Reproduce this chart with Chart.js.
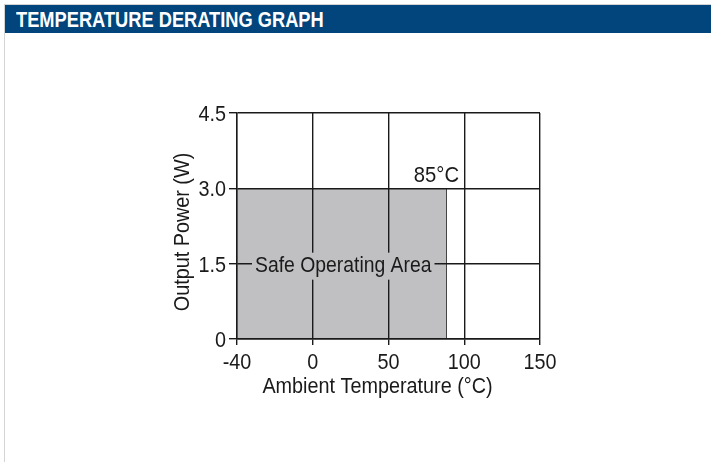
<!DOCTYPE html>
<html>
<head>
<meta charset="utf-8">
<script src="https://cdn.jsdelivr.net/npm/chart.js@4/dist/chart.umd.min.js"></script>
<style>
  html, body { margin: 0; padding: 0; background: #fff; }
  body { width: 711px; height: 462px; position: relative; overflow: hidden; }
  #panel { position: absolute; left: 4px; top: 4px; right: 0; bottom: 0;
           border-left: 1.5px solid #d4d4d4; border-top: 1px solid #d4d4d4; }
  #header { position: absolute; left: 5px; top: 5px; width: 706px; height: 28px;
            background: #01457c; color: #fff; box-sizing: border-box; padding-left: 11px;
            font: bold 22px 'Liberation Sans', Arial, sans-serif;
            line-height: 29px; white-space: nowrap; }
  #header span { display: inline-block; transform: scaleX(0.83); transform-origin: 0 50%; }
  #chart { position: absolute; left: 0; top: 0; }
</style>
</head>
<body>
<div id="panel"></div>
<div id="header"><span>TEMPERATURE DERATING GRAPH</span></div>
<canvas id="chart" width="711" height="462"></canvas>
<script>
// axis ticks (x axis is evenly spaced, not linear)
const tempTicks = [-40, 0, 50, 100, 150];
const powerTicks = [0, 1.5, 3.0, 4.5];

// safe operating area
const safeTemps = [-40, 88];
const safePower = [3.0, 3.0];
const safeLabel = 'Safe Operating Area';
const limitLabel = '85°C';
const xTitle = 'Ambient Temperature (°C)';
const yTitle = 'Output Power (W)';

const FONT = "'Liberation Sans', Arial, sans-serif";
const INK = '#1a1a1a';
const FILL = '#c0c0c2';

// map a temperature onto the evenly spaced tick index scale
function tempToIdx(t) {
  for (let i = 0; i < tempTicks.length - 1; i++) {
    const a = tempTicks[i], b = tempTicks[i + 1];
    if (t <= b) return i + (t - a) / (b - a);
  }
  return tempTicks.length - 1;
}

const areaPoints = safeTemps.map((t, i) => ({ x: tempToIdx(t), y: safePower[i] }));
const lastT = safeTemps[safeTemps.length - 1];
const edgePoints = [{ x: tempToIdx(lastT), y: 0 }, { x: tempToIdx(lastT), y: safePower[safePower.length - 1] }];

// condensed text (the original uses a narrow Helvetica)
function txt(ctx, s, x, y, align, sx, rot) {
  ctx.save();
  ctx.translate(x, y);
  if (rot) ctx.rotate(rot);
  ctx.scale(sx, 1);
  ctx.textAlign = align;
  ctx.textBaseline = 'alphabetic';
  ctx.fillText(s, 0, 0);
  ctx.restore();
}

const textPlugin = {
  id: 'texts',
  afterDraw(chart) {
    const { ctx, chartArea: ca, scales: { x, y } } = chart;
    ctx.save();
    ctx.font = '22px ' + FONT;
    ctx.fillStyle = INK;
    // tick labels
    x.ticks.forEach((t) => txt(ctx, String(tempTicks[t.value]), x.getPixelForValue(t.value), ca.bottom + 30, 'center', 0.9));
    y.ticks.forEach((t) => txt(ctx, t.value === 0 ? '0' : t.value.toFixed(1), ca.left - 11, y.getPixelForValue(t.value) + 8, 'right', 0.9));
    // axis titles
    txt(ctx, xTitle, (ca.left + ca.right) / 2 - 11, ca.bottom + 54, 'center', 0.9);
    txt(ctx, yTitle, ca.left - 48, (ca.top + ca.bottom) / 2 + 6, 'center', 0.9, -Math.PI / 2);
    // safe area label on a grey box that breaks the grid
    const lx = x.getPixelForValue(tempToIdx(safeTemps[0])) + 18;
    const ly = y.getPixelForValue(1.5);
    const w = ctx.measureText(safeLabel).width * 0.88;
    ctx.fillStyle = FILL;
    ctx.fillRect(lx - 3, ly - 11, w + 6, 27);
    ctx.fillStyle = INK;
    txt(ctx, safeLabel, lx, ly + 8, 'left', 0.88);
    // derating limit label
    txt(ctx, limitLabel, x.getPixelForValue(tempToIdx(lastT)) + 13, y.getPixelForValue(safePower[1]) - 6, 'right', 0.92);
    ctx.restore();
  }
};

new Chart(document.getElementById('chart'), {
  type: 'line',
  data: {
    datasets: [
      {
        data: areaPoints,
        backgroundColor: FILL,
        borderWidth: 0,
        pointRadius: 0,
        fill: 'origin'
      },
      {
        data: edgePoints,
        borderColor: INK,
        borderWidth: 1.5,
        pointRadius: 0,
        fill: false
      }
    ]
  },
  options: {
    responsive: false,
    animation: false,
    devicePixelRatio: 1,
    layout: { padding: { left: 160, right: 171, top: 113, bottom: 63 } },
    plugins: { legend: { display: false }, tooltip: { enabled: false } },
    scales: {
      x: {
        type: 'linear',
        min: 0,
        max: tempTicks.length - 1,
        afterFit: (s) => { s.height = 60; },
        afterBuildTicks: (s) => { s.ticks = tempTicks.map((t, i) => ({ value: i })); },
        grid: { color: INK, lineWidth: 1.4, tickLength: 6, z: 1 },
        border: { color: INK, width: 1.4, z: 1 },
        ticks: { display: false }
      },
      y: {
        min: 0,
        max: powerTicks[powerTicks.length - 1],
        afterFit: (s) => { s.width = 77; },
        afterBuildTicks: (s) => { s.ticks = powerTicks.map((v) => ({ value: v })); },
        grid: { color: INK, lineWidth: 1.4, tickLength: 8, z: 1 },
        border: { color: INK, width: 1.4, z: 1 },
        ticks: { display: false }
      }
    }
  },
  plugins: [textPlugin]
});
</script>
</body>
</html>
